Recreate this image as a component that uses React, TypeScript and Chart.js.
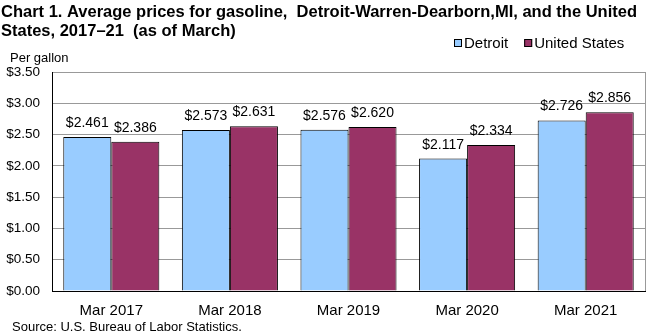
import React, { useEffect, useRef } from "react";
import { Chart, registerables } from "chart.js";

Chart.register(...registerables);

const categories = ["Mar 2017", "Mar 2018", "Mar 2019", "Mar 2020", "Mar 2021"];
const detroitValues = [2.461, 2.573, 2.576, 2.117, 2.726];
const usValues = [2.386, 2.631, 2.62, 2.334, 2.856];
const seriesNames = ["Detroit", "United States"];
const seriesColors = ["#99CCFF", "#993366"];
const titleLines = [
  "Chart 1. Average prices for gasoline,  Detroit-Warren-Dearborn,MI, and the United",
  "States, 2017\u201321  (as of March)",
];
const yAxisLabel = "Per gallon";
const sourceText = "Source: U.S. Bureau of Labor Statistics.";

const FONT = "'Liberation Sans', Arial, sans-serif";

const textPlugin = {
  id: "textPlugin",
  afterDraw(chart: any) {
    const ctx = chart.ctx;
    const area = chart.chartArea;
    ctx.save();
    // right border of plot area
    ctx.strokeStyle = "#999999";
    ctx.lineWidth = 1;
    ctx.beginPath();
    ctx.moveTo(Math.round(area.right) + 0.5, area.top);
    ctx.lineTo(Math.round(area.right) + 0.5, area.bottom);
    ctx.stroke();

    // data labels
    ctx.fillStyle = "#000";
    ctx.font = `14px ${FONT}`;
    ctx.textAlign = "center";
    ctx.textBaseline = "alphabetic";
    chart.data.datasets.forEach((ds: any, i: number) => {
      const meta = chart.getDatasetMeta(i);
      meta.data.forEach((el: any, j: number) => {
        const v = ds.data[j];
        ctx.fillText("$" + v.toFixed(3), el.x, el.y - 10);
      });
    });

    // title
    ctx.textAlign = "left";
    ctx.font = `bold 16.5px ${FONT}`;
    ctx.fillText(titleLines[0], 1, 17);
    ctx.fillText(titleLines[1], 1, 36);

    // per gallon
    ctx.font = `13px ${FONT}`;
    ctx.fillText(yAxisLabel, 10, 62);

    // source
    ctx.fillText(sourceText, 12, 331);

    // legend
    ctx.font = `15px ${FONT}`;
    ctx.textBaseline = "middle";
    let x = 454;
    const ly = 43;
    chart.data.datasets.forEach((ds: any) => {
      ctx.fillStyle = ds.backgroundColor;
      ctx.fillRect(x, ly - 4, 8, 8);
      ctx.strokeStyle = "#000";
      ctx.strokeRect(x + 0.5, ly - 3.5, 7, 7);
      ctx.fillStyle = "#000";
      ctx.fillText(ds.label, x + 10, ly + 1);
      x += 10 + ctx.measureText(ds.label).width + 16;
    });
    ctx.restore();
  },
};

export default function App() {
  const ref = useRef<HTMLCanvasElement>(null);
  useEffect(() => {
    document.body.style.margin = "0";
    const canvas = ref.current!;
    const chart = new Chart(canvas, {
      type: "bar",
      data: {
        labels: categories,
        datasets: [
          {
            label: seriesNames[0],
            data: detroitValues,
            backgroundColor: seriesColors[0],
            borderColor: "#000",
            borderWidth: 1,
            categoryPercentage: 0.81,
            barPercentage: 1,
          },
          {
            label: seriesNames[1],
            data: usValues,
            backgroundColor: seriesColors[1],
            borderColor: "#000",
            borderWidth: 1,
            categoryPercentage: 0.81,
            barPercentage: 1,
          },
        ],
      },
      options: {
        responsive: false,
        animation: false,
        devicePixelRatio: 1,
        layout: { padding: { left: 0, top: 72, right: 15, bottom: 0 } },
        plugins: {
          legend: { display: false },
          title: { display: false },
          tooltip: { enabled: false },
        },
        scales: {
          x: {
            grid: { display: false },
            border: { display: true, color: "#000", width: 1 },
            ticks: {
              color: "#000",
              font: { family: FONT, size: 15 },
              padding: 3,
              maxRotation: 0,
            },
            afterFit(scale: any) {
              scale.height = 43;
            },
          },
          y: {
            min: 0,
            max: 3.5,
            grid: { color: "#999999", drawTicks: false },
            border: { display: true, color: "#000", width: 1 },
            ticks: {
              stepSize: 0.5,
              color: "#000",
              font: { family: FONT, size: 13.5 },
              padding: 12,
              callback: (v: any) => "$" + Number(v).toFixed(2),
            },
            afterFit(scale: any) {
              scale.width = 52;
            },
          },
        },
      },
      plugins: [textPlugin],
    });
    return () => chart.destroy();
  }, []);
  return <canvas ref={ref} width={660} height={334} style={{ display: "block" }} />;
}
